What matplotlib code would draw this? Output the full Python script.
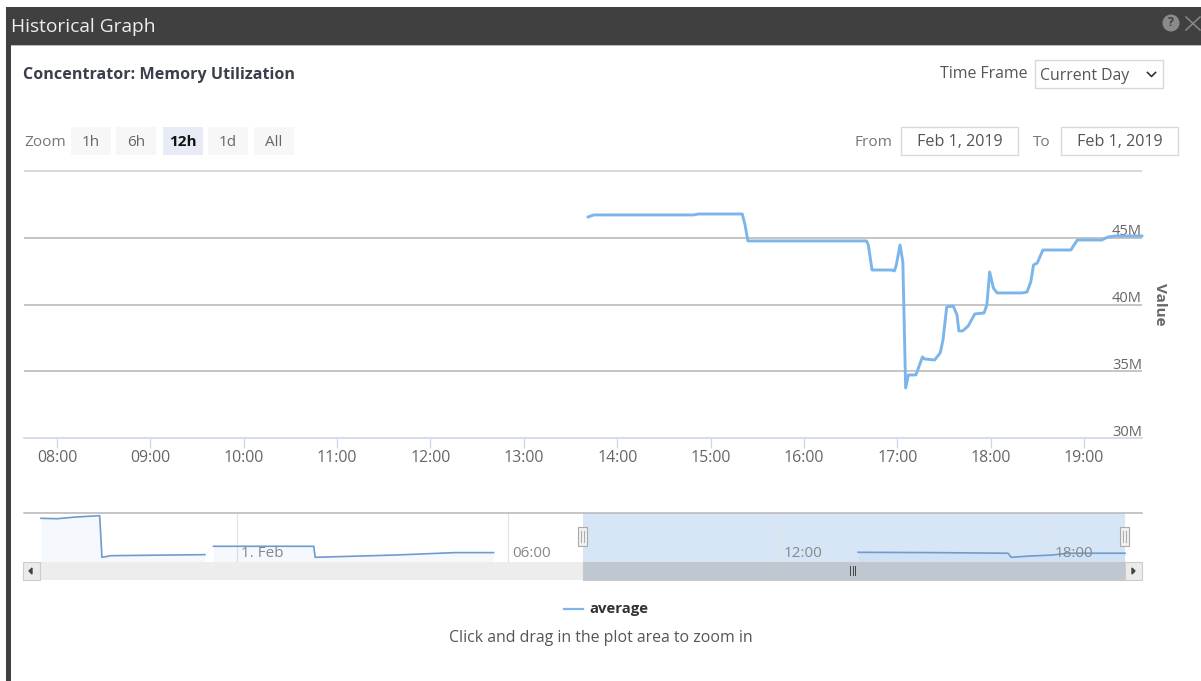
import matplotlib
matplotlib.use("Agg")
import matplotlib.pyplot as plt
from matplotlib.patches import Rectangle, Circle
from matplotlib.transforms import ScaledTranslation
import numpy as np

plt.rcParams['font.family'] = ['Open Sans', 'DejaVu Sans']

# ---- data ----
hours = [13.69, 13.75, 14.82, 14.87, 15.34, 15.37, 15.40, 16.67, 16.69, 16.73, 16.94, 16.97,
         16.99, 17.03, 17.06, 17.09, 17.12, 17.20, 17.27, 17.29, 17.40, 17.46, 17.49, 17.53,
         17.60, 17.64, 17.66, 17.70, 17.76, 17.83, 17.93, 17.96, 17.99, 18.03, 18.07, 18.34,
         18.39, 18.43, 18.46, 18.50, 18.56, 18.86, 18.88, 18.93, 19.19, 19.26, 19.33, 19.62]
average = [46.58, 46.73, 46.73, 46.80, 46.80, 45.98, 44.78, 44.78, 44.48, 42.60, 42.60, 42.53,
           42.98, 44.48, 43.20, 33.75, 34.73, 34.73, 36.08, 35.93, 35.85, 36.38, 37.35, 39.83,
           39.90, 39.23, 38.03, 38.03, 38.40, 39.30, 39.38, 39.98, 42.45, 41.25, 40.88, 40.88,
           40.95, 41.70, 42.98, 43.13, 44.10, 44.10, 44.33, 44.85, 44.85, 45.08, 45.15, 45.15]
x_ticks = list(range(8, 20))
x_labels = ['08:00', '09:00', '10:00', '11:00', '12:00', '13:00', '14:00', '15:00', '16:00',
            '17:00', '18:00', '19:00']
y_ticks = [30, 35, 40, 45, 50]
y_labels = ['30M', '35M', '40M', '45M', '']

nav_segments_h = [[-4.34, -3.98, -3.59, -3.04, -2.99, -2.79, -0.71],
                  [-0.52, 1.70, 1.73, 3.48, 4.83, 5.68],
                  [13.75, 15.42, 17.07, 17.14, 17.53, 18.04, 18.39, 19.66]]
nav_segments_v = [[214, 212, 220, 227, 23, 31, 36],
                  [77, 77, 23, 34, 46, 46],
                  [47.5, 46, 43, 23, 29, 34, 43, 43]]
nav_ticks = [0, 6, 12, 18]
nav_labels = ['1. Feb', '06:00', '12:00', '18:00']
zoom_buttons = ['1h', '6h', '12h', '1d', 'All']

W, H = 1201, 681
fig = plt.figure(figsize=(W / 100, H / 100), dpi=100, facecolor='white')


def px_axes(l, t, r, b, **kw):
    return fig.add_axes([l / W, (H - b) / H, (r - l) / W, (b - t) / H], **kw)


# ---- chrome ----
bg = fig.add_axes([0, 0, 1, 1], zorder=0)
bg.set_xlim(0, W)
bg.set_ylim(H, 0)
bg.axis('off')


def box(l, t, r, b, fc='white', ec='none', lw=1.0, z=1):
    bg.add_patch(Rectangle((l, t), r - l, b - t, fc=fc, ec=ec, lw=lw, zorder=z))


def txt(x, y, s, size=10, color='#555555', ha='left', weight='normal', z=3):
    bg.text(x, y, s, fontsize=size, color=color, ha=ha, va='center', fontweight=weight, zorder=z)


box(6, 7, W, 45, fc='#404040')
box(6, 7, 10.5, H, fc='#404040')
box(10.5, 45, W, 46, fc='#bbbbbb')
txt(11, 26.5, 'Historical Graph', size=13.8, color='#eeeeee')
bg.add_patch(Circle((1171, 23), 8.5, fc='#8a8a8a', ec='none', zorder=3))
txt(1171, 23, '?', size=9, color='#404040', ha='center', weight='bold', z=4)
bg.plot([1186, 1200], [17, 30], color='#8a8a8a', lw=1.1, zorder=3)
bg.plot([1186, 1200], [30, 17], color='#8a8a8a', lw=1.1, zorder=3)

txt(23, 75, 'Concentrator: Memory Utilization', size=11.6, color='#3a3f4a', weight='bold')
txt(940, 74, 'Time Frame', size=11.4, color='#555555')
box(1035, 60, 1163, 88, ec='#d8d8d8', lw=1.0)
txt(1040, 75.5, 'Current Day', size=11.4, color='#555555')
bg.plot([1147.5, 1151.5, 1155.5], [72.5, 76.5, 72.5], color='#333333', lw=1.2, zorder=3)

txt(24, 142, 'Zoom', size=11.1, color='#777777')
btn_x = [71, 116, 162.5, 208, 254]
for bx, lab in zip(btn_x, zoom_buttons):
    active = lab == '12h'
    box(bx, 127, bx + 40, 155, fc='#e6ebf5' if active else '#f7f7f7')
    bg.text(bx + 20, 142, lab, fontsize=11, ha='center', va='center', zorder=3,
            color='#111111' if active else '#666666', fontweight='bold' if active else 'normal')

txt(855, 142, 'From', size=11.1, color='#777777')
box(901, 127, 1018, 154.5, ec='#d8d8d8')
txt(959.5, 142, 'Feb 1, 2019', size=11.6, ha='center')
txt(1033, 142, 'To', size=11.1, color='#777777')
box(1061, 127, 1178, 154.5, ec='#d8d8d8')
txt(1119.5, 142, 'Feb 1, 2019', size=11.6, ha='center')

bg.plot([564, 583], [608.5, 608.5], color='#7cb5ec', lw=1.6, zorder=3)
txt(589.5, 609.5, 'average', size=10.7, color='#333333', weight='bold')
txt(600.5, 638, 'Click and drag in the plot area to zoom in', size=11.4, color='#555555', ha='center')
bg.text(1160, 304, 'Value', fontsize=11, color='#666666', rotation=270, ha='center', va='center',
        fontweight='bold', zorder=3)

# ---- main plot ----
ax = px_axes(24, 170, 1142, 438, zorder=2)
ax.patch.set_alpha(0)
ax.set_xlim(8 - 33 / 93.36, 8 + 1085 / 93.36)
ax.set_ylim(30, 50.1)
for s in ['top', 'left', 'right']:
    ax.spines[s].set_visible(False)
ax.spines['bottom'].set_color('#ccd6eb')
ax.spines['bottom'].set_linewidth(1.2)
ax.set_axisbelow(True)
ax.grid(axis='y', color='#b5b5b5', lw=1.1)
ax.set_xticks(x_ticks, x_labels)
ax.tick_params(axis='x', length=7.5, width=0.9, color='#ccd6eb', labelcolor='#666666',
               labelsize=11.4, pad=1.5)
ax.set_yticks(y_ticks, y_labels)
ax.yaxis.tick_right()
ax.tick_params(axis='y', length=0, labelcolor='#666666', labelsize=10.5, pad=0)
shift = ScaledTranslation(0, -1.5 / 100, fig.dpi_scale_trans)
for lab in ax.get_yticklabels():
    lab.set_ha('right')
    lab.set_va('bottom')
    lab.set_transform(lab.get_transform() + shift)
ax.get_ygridlines()[0].set_visible(False)
ax.get_ygridlines()[4].set_color('#cfcfcf')
ax.plot(hours, average, color='#7cb5ec', lw=2.1, solid_joinstyle='round', clip_on=False, zorder=3)

# ---- navigator ----
nav = px_axes(24, 513, 1142, 562, zorder=2)
nav.set_facecolor('white')
nav.set_xlim(-213 / 45.17, 905 / 45.17)
nav.set_ylim(0, 240)
for s in ['left', 'right', 'bottom']:
    nav.spines[s].set_visible(False)
nav.spines['top'].set_color('#b5b5b5')
nav.spines['top'].set_linewidth(1.1)
nav.set_yticks([])
nav.set_xticks(nav_ticks, [])
nav.tick_params(axis='x', length=0)
nav.set_axisbelow(True)
nav.grid(axis='x', color='#e4e4e4', lw=0.9)
nav.axvspan(7.66, 19.66, color='#d6e6f7', lw=0, zorder=0.5)
for h, v in zip(nav_segments_h, nav_segments_v):
    nav.fill_between(h, v, 0, color='#7ca0d8', alpha=0.07, lw=0, zorder=1)
    nav.plot(h, v, color='#6f9bcf', lw=1.2, zorder=2)
for t, lab in zip(nav_ticks, nav_labels):
    nav.annotate(lab, (t, 0), xytext=(3.2, 0.5), textcoords='offset points', fontsize=11,
                 color='#888888', ha='left', va='bottom', zorder=3)

# ---- scrollbar and handles ----
top = px_axes(0, 0, W, H, zorder=4)
top.set_xlim(0, W)
top.set_ylim(H, 0)
top.axis('off')


def tbox(l, t, r, b, fc, ec='none', lw=0.8):
    top.add_patch(Rectangle((l, t), r - l, b - t, fc=fc, ec=ec, lw=lw))


tbox(24, 562, 1142, 580, '#ededed')
tbox(583, 562, 1125, 580, '#bfc7d1', ec='#c8c8c8')
tbox(23, 562, 39.5, 580, '#ebebeb', ec='#cccccc')
tbox(1125, 562, 1142, 580, '#ebebeb', ec='#cccccc')
top.fill([32, 29, 32], [568, 571, 574], color='#444444')
top.fill([1132, 1135, 1132], [568, 571, 574], color='#444444')
for dx in (850, 852.5, 855):
    top.plot([dx, dx], [566, 575], color='#444444', lw=0.7)
for hx in (582, 1124.5):
    tbox(hx - 4.5, 527, hx + 4.5, 546, '#f0f0f0', ec='#aaaaaa')
    for dx in (-1.5, 1.5):
        top.plot([hx + dx, hx + dx], [531, 542], color='#aaaaaa', lw=0.7)

fig.savefig('out.png', dpi=100)
